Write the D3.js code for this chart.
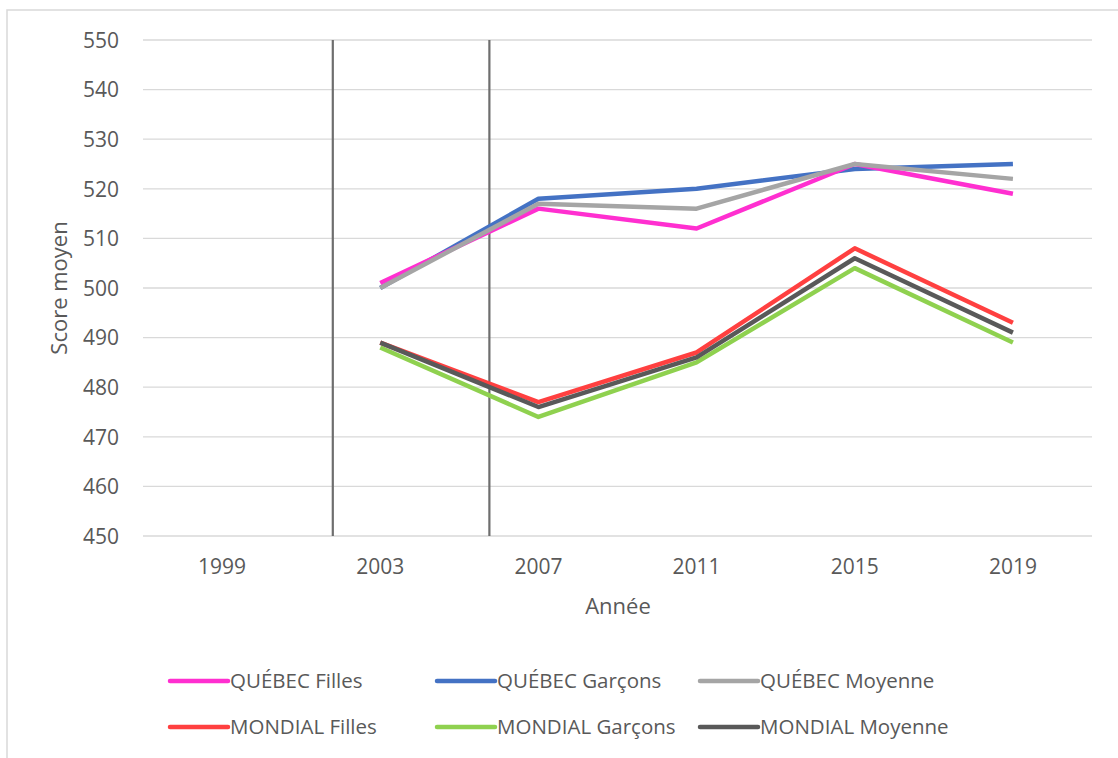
<!DOCTYPE html>
<html>
<head>
<meta charset="utf-8">
<script src="https://cdn.jsdelivr.net/npm/d3@7"></script>
<style>
body{margin:0;background:#fff;}
text{font-family:"Open Sans",sans-serif;fill:#595959;}
</style>
</head>
<body>
<div id="svg-container"></div>
<script>
// données
annees=["1999","2003","2007","2011","2015","2019"];
yTicks=[450,460,470,480,490,500,510,520,530,540,550];
// null = pas de valeur
quebecFilles=[null,501,516,512,525,519];
quebecGarcons=[null,500,518,520,524,525];
quebecMoyenne=[null,500,517,516,525,522];
mondialFilles=[null,489,477,487,508,493];
mondialGarcons=[null,488,474,485,504,489];
mondialMoyenne=[null,489,476,486,506,491];
// lignes verticales (position en catégories)
separateurs=[0.7,1.69];

series=[
	{nom:"QUÉBEC Filles",val:quebecFilles,col:"#ff2fd0"},
	{nom:"QUÉBEC Garçons",val:quebecGarcons,col:"#4472c4"},
	{nom:"QUÉBEC Moyenne",val:quebecMoyenne,col:"#a5a5a5"},
	{nom:"MONDIAL Filles",val:mondialFilles,col:"#ff4040"},
	{nom:"MONDIAL Garçons",val:mondialGarcons,col:"#8fd14f"},
	{nom:"MONDIAL Moyenne",val:mondialMoyenne,col:"#595959"}
];
// ordre de dessin (la moyenne par-dessus)
ordre=[1,0,2,3,4,5];

width=1118;
height=758;
gauche=143;droite=1092;haut=40;bas=536;

main=function(){
	$svg=d3.select('#svg-container').append('svg').attr('width',width).attr('height',height);

	$svg.append('rect').attr('x',7).attr('y',10).attr('width',1130).attr('height',770)
		.attr('fill','none').attr('stroke','#d9d9d9').attr('stroke-width',1.5);

	x=d3.scaleBand().domain(annees).range([gauche,droite]);
	xi=d3.scaleLinear().domain([0,annees.length]).range([gauche,droite]);
	y=d3.scaleLinear().domain([450,550]).range([bas,haut]);

	//grille
	$svg.append('g').selectAll('line').data(yTicks).enter().append('line')
		.attr('x1',gauche).attr('x2',droite)
		.attr('y1',function(d){return y(d)}).attr('y2',function(d){return y(d)})
		.attr('stroke','#d9d9d9').attr('stroke-width',1.3);

	//axe y
	ay=$svg.append('g').attr('transform','translate('+(gauche-24)+',0)')
		.call(d3.axisLeft(y).tickValues(yTicks).tickSize(0).tickPadding(0));
	ay.select('.domain').remove();
	ay.selectAll('text').style('font-size','21px').attr('dy','0.35em');

	//axe x
	ax=$svg.append('g').attr('transform','translate(0,'+(bas+31)+')')
		.call(d3.axisBottom(x).tickSize(0).tickPadding(0));
	ax.select('.domain').remove();
	ax.selectAll('text').style('font-size','21px').attr('dy','0.35em');

	$svg.append('text').text('Année').attr('x',618).attr('y',614)
		.attr('text-anchor','middle').style('font-size','22px');
	$svg.append('text').text('Score moyen')
		.attr('transform','translate(67,288) rotate(-90)')
		.attr('text-anchor','middle').style('font-size','22px');

	//séparateurs
	$svg.append('g').selectAll('line').data(separateurs).enter().append('line')
		.attr('x1',function(d){return xi(d+0.5)}).attr('x2',function(d){return xi(d+0.5)})
		.attr('y1',y(550)).attr('y2',y(450))
		.attr('stroke','#6e6e6e').attr('stroke-width',2.2);

	//courbes
	ligne=d3.line()
		.defined(function(d){return d!=null})
		.x(function(d,i){return x(annees[i])+x.bandwidth()/2})
		.y(function(d){return y(d)});
	$svg.append('g').selectAll('path').data(ordre).enter().append('path')
		.attr('d',function(k){return ligne(series[k].val)})
		.attr('fill','none')
		.attr('stroke',function(k){return series[k].col})
		.attr('stroke-width',4.5)
		.attr('stroke-linejoin','round');

	//légende
	legX=[170,437,700];
	legY=[681,727];
	$leg=$svg.append('g').selectAll('g').data(series).enter().append('g')
		.attr('transform',function(d,i){return 'translate('+legX[i%3]+','+legY[Math.floor(i/3)]+')'});
	$leg.append('line').attr('x1',0).attr('x2',58).attr('y1',0).attr('y2',0)
		.attr('stroke',function(d){return d.col}).attr('stroke-width',4.5).attr('stroke-linecap','round');
	$leg.append('text').text(function(d){return d.nom})
		.attr('x',60).attr('dy','0.35em').style('font-size','20.5px');
};

main();
</script>
</body>
</html>
